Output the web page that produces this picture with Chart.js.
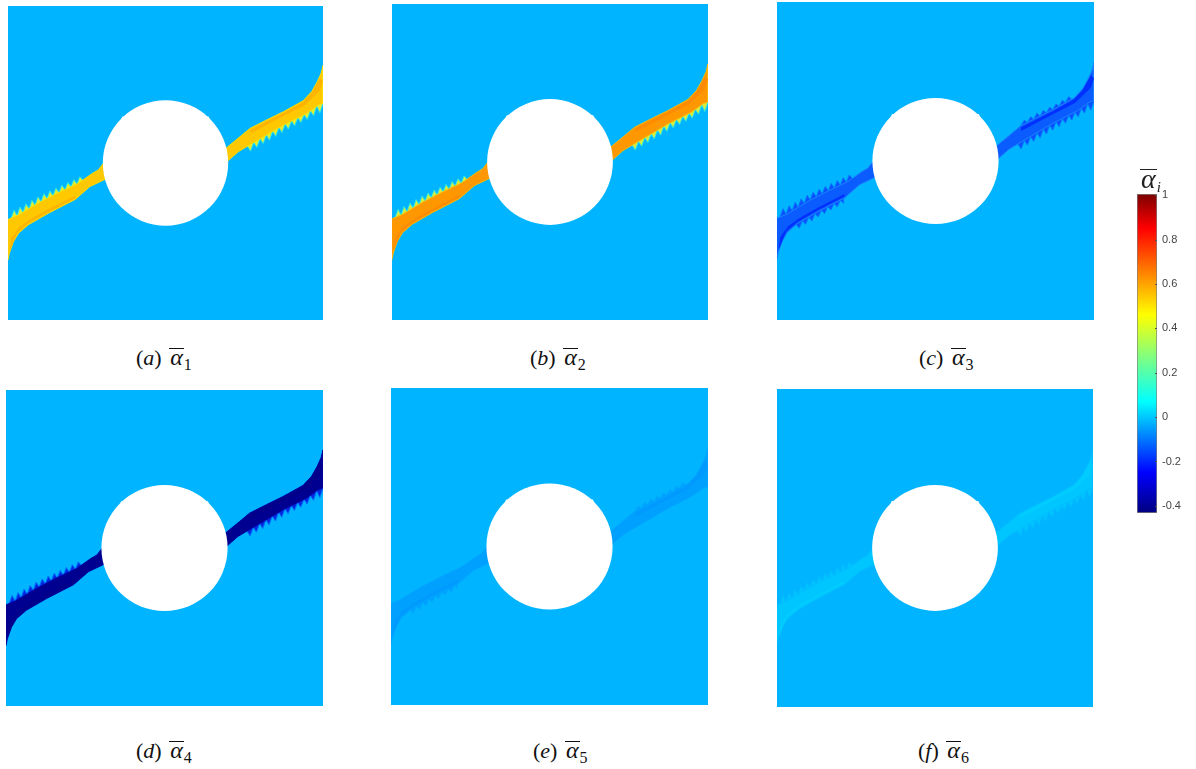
<!DOCTYPE html>
<html>
<head>
<meta charset="utf-8">
<script src="https://cdn.jsdelivr.net/npm/chart.js@4/dist/chart.umd.min.js"></script>
<style>
    html, body { margin: 0; padding: 0; background: #fff; width: 1196px; height: 769px; overflow: hidden; }
    canvas { position: absolute; display: block; }
    .cap { position: absolute; font-family: "Liberation Serif", serif; font-size: 22px; line-height: 26px; color: #111; white-space: nowrap; }
    .bar { display: inline-block; font-style: italic; font-size: 24px; line-height: 16px; border-top: 1.4px solid #111; padding: 0 1px; margin-left: 2px; }
    .cap sub { font-size: 16px; line-height: 0; vertical-align: -5px; }
    #barTitle { position: absolute; left: 1140px; top: 164px; font-family: "Liberation Serif", serif; font-size: 28px; line-height: 30px; color: #222; white-space: nowrap; }
    #barTitle .bar { font-size: 28px; line-height: 18px; margin-left: 0; border-top-color: #222; }
    #barTitle sub { font-size: 15px; line-height: 0; vertical-align: -4px; }
</style>
</head>
<body>
<script>
// band outlines, in % of the plate (x from left, y from bottom)
const leftBandX = [0, 3.3, 9.6, 16, 22.3, 26.8, 28.7, 30.3, 33, 33, 30.8, 26, 21.3, 12.8, 6.4, 3.3, 1.7, 0.4, 0];
const leftBandY = [32, 33.4, 37.2, 40.5, 43.5, 46.7, 47.8, 49.9, 52, 43.5, 44.8, 42.5, 38.4, 34, 30.3, 27.6, 24.9, 21.2, 19.1];
const rightBandX = [68, 69.8, 73.7, 76.8, 82.1, 87.4, 93.7, 96.4, 98.2, 99.4, 100, 100, 98.5, 94.8, 87.4, 77.9, 73.1, 69.8, 68];
const rightBandY = [53.7, 55.2, 58.4, 61, 63.7, 66.3, 69.8, 72.7, 75.9, 78.6, 81, 69, 68.5, 65.8, 62.1, 56.5, 53.6, 50.7, 49.3];

// darker strip inside the band
const leftStreakX = [0.5, 3, 6.4, 12.8, 21.3, 21.3, 13, 7, 3.5, 1];
const leftStreakY = [22, 27.9, 30.7, 34.4, 38.8, 39.6, 35.4, 32, 29.5, 26];
const rightStreakX = [77, 87.4, 93.7, 96.4, 99, 100, 99, 94, 87, 77];
const rightStreakY = [60.6, 65.9, 69.4, 72.3, 77, 76, 73, 68.2, 64.7, 59.4];

// saw teeth along the band edges
const teethLeftUpperX = [0, 1, 1.9, 2.9, 3.8, 4.8, 5.7, 6.7, 7.6, 8.6, 9.5, 10.5, 11.4, 12.4, 13.3, 14.3, 15.2, 16.2, 17.1, 18.1, 19, 20, 20.9, 21.9, 22.8, 23.8, 23.8, 1];
const teethLeftUpperY = [32, 32.4, 35, 33.2, 35.9, 34.3, 37, 35.4, 38.1, 36.6, 39.2, 37.7, 40.2, 38.7, 41.1, 39.6, 42, 40.6, 42.9, 41.4, 43.8, 42.4, 44.7, 43.3, 45.6, 44.5, 42, 30];
const teethRightLowerX = [76, 77, 78, 79, 80, 81, 82, 83, 84, 85, 86, 87, 88, 89, 90, 91, 92, 93, 94, 95, 96, 97, 98, 99, 100, 100, 76];
const teethRightLowerY = [55.4, 53.8, 56.5, 55, 57.7, 56.2, 58.9, 57.3, 60.1, 58.5, 61.3, 59.7, 62.4, 60.8, 63.4, 61.9, 64.4, 62.9, 65.4, 63.9, 66.6, 65.1, 68.1, 66, 69, 71, 58];
const teethLeftLowerX = [6, 7, 8, 9, 10, 11, 12, 13, 14, 15, 16, 17, 18, 19, 20, 21, 21, 6];
const teethLeftLowerY = [30.1, 28.9, 31.2, 30.1, 32.4, 31.2, 33.5, 32.4, 34.6, 33.5, 35.7, 34.6, 36.7, 35.6, 37.7, 36.7, 40, 33];
const teethRightUpperX = [77, 78, 79, 80, 81, 82, 83, 84, 85, 86, 87, 88, 89, 90, 91, 92, 93, 93, 77];
const teethRightUpperY = [61.1, 62.8, 62.1, 63.9, 63.1, 65, 64.1, 65.9, 65.1, 66.9, 66.1, 67.9, 67.2, 69.1, 68.3, 70.2, 69.4, 66, 58];

const holeX = [50];
const holeY = [50];
const holeR = 19.9;

// small mesh steps on the rim of the hole
const notchLeftX = [36, 36.3, 37.3, 37.6];
const notchLeftY = [64, 64.8, 64.8, 64.3];
const notchRightX = [62.4, 62.7, 63.7, 64];
const notchRightY = [64.3, 64.8, 64.8, 64];

// one entry per panel
const panelLetters = ['a', 'b', 'c', 'd', 'e', 'f'];
const panelIndex = ['1', '2', '3', '4', '5', '6'];
const bandColors = ['#ffc800', '#ff9800', '#0a5cff', '#000090', '#00a0ff', '#00c6ff'];
const edgeColors = ['#ffdc00', '#ffb800', '#1a84ff', '#0000a0', '#00a4ff', '#00bcff'];
const streakColors = ['#ffb400', '#ff8c00', '#0030ff', '#00008a', '#009aff', '#00ccff'];
const teethColors = ['#e4ec30', '#d8ec40', '#0a50ff', '#0028e0', '#00a0ff', '#00c4ff'];
const teethEdges = ['#30e8e0', '#30e8e0', '#0a70ff', '#0070ff', '#00a8ff', '#00bcff'];

// colour bar
const barMin = -0.432;
const barMax = 1.005;
const barTicks = [-0.4, -0.2, 0, 0.2, 0.4, 0.6, 0.8, 1];
const barStopValues = [-0.43, -0.25, 0.07, 0.27, 0.46, 0.85, 1];
const barStopColors = ['#000080', '#0000ff', '#00ffff', '#80ff80', '#ffff00', '#ff0000', '#800000'];

const PLATE = '#00b4ff';
const panelBoxes = [
    { left: 8, top: 6, width: 315, height: 314 },
    { left: 392, top: 4, width: 316, height: 316 },
    { left: 777, top: 2, width: 317, height: 318 },
    { left: 6, top: 390, width: 317, height: 316 },
    { left: 391, top: 388, width: 317, height: 317 },
    { left: 777, top: 389, width: 316, height: 318 }
];
const captionBoxes = [
    { left: 136, top: 345 }, { left: 530, top: 345 }, { left: 919, top: 345 },
    { left: 136, top: 738 }, { left: 533, top: 738 }, { left: 918, top: 738 }
];

const points = (xs, ys) => xs.map((x, i) => ({ x: x, y: ys[i] }));

const shape = (xs, ys, color, edge) => ({
    type: 'scatter',
    data: points(xs, ys),
    showLine: true,
    fill: 'shape',
    tension: 0,
    pointRadius: 0,
    borderWidth: edge ? 1 : 0,
    borderColor: edge || color,
    backgroundColor: color
});

const plateBackground = {
    id: 'plateBackground',
    beforeDraw(chart) {
        const { ctx, chartArea: a } = chart;
        ctx.save();
        ctx.fillStyle = PLATE;
        ctx.fillRect(a.left, a.top, a.width, a.height);
        ctx.restore();
    }
};

// short ticks drawn inside the colour bar
const innerTicks = {
    id: 'innerTicks',
    afterDatasetsDraw(chart) {
        const { ctx, chartArea: a, scales: { y } } = chart;
        ctx.save();
        ctx.strokeStyle = '#555';
        ctx.lineWidth = 1;
        barTicks.forEach(v => {
            const py = Math.round(y.getPixelForValue(v)) + 0.5;
            ctx.beginPath();
            ctx.moveTo(a.right - 2, py);
            ctx.lineTo(a.right, py);
            ctx.stroke();
        });
        ctx.restore();
    }
};

function addCanvas(box) {
    const canvas = document.createElement('canvas');
    canvas.width = box.width;
    canvas.height = box.height;
    canvas.style.left = box.left + 'px';
    canvas.style.top = box.top + 'px';
    canvas.style.width = box.width + 'px';
    canvas.style.height = box.height + 'px';
    document.body.appendChild(canvas);
    return canvas;
}

function drawPanel(i) {
    // first dataset ends up on top
    const datasets = [{
        type: 'scatter',
        data: points(holeX, holeY),
        pointBackgroundColor: '#fff',
        pointBorderWidth: 0,
        pointRadius: c => c.chart.scales.x.getPixelForValue(holeR) - c.chart.scales.x.getPixelForValue(0),
        clip: false
    },
    shape(notchLeftX, notchLeftY, '#fff'),
    shape(notchRightX, notchRightY, '#fff'),
    shape(leftStreakX, leftStreakY, streakColors[i]),
    shape(rightStreakX, rightStreakY, streakColors[i]),
    shape(leftBandX, leftBandY, bandColors[i], edgeColors[i]),
    shape(rightBandX, rightBandY, bandColors[i], edgeColors[i])];

    // which edges carry teeth changes a bit from panel to panel
    if (i !== 4) {
        datasets.push(shape(teethLeftUpperX, teethLeftUpperY, teethColors[i], teethEdges[i]));
        datasets.push(shape(teethRightLowerX, teethRightLowerY, teethColors[i], teethEdges[i]));
    }
    if (i === 2 || i === 4) {
        datasets.push(shape(teethLeftLowerX, teethLeftLowerY, teethColors[i], teethEdges[i]));
        datasets.push(shape(teethRightUpperX, teethRightUpperY, teethColors[i], teethEdges[i]));
    }

    new Chart(addCanvas(panelBoxes[i]), {
        type: 'scatter',
        data: { datasets: datasets },
        plugins: [plateBackground],
        options: {
            responsive: false,
            animation: false,
            events: [],
            layout: { padding: 0 },
            plugins: { legend: { display: false }, tooltip: { enabled: false } },
            scales: {
                x: { type: 'linear', min: 0, max: 100, display: false },
                y: { type: 'linear', min: 0, max: 100, display: false }
            }
        }
    });

    const cap = document.createElement('div');
    cap.className = 'cap';
    cap.style.left = captionBoxes[i].left + 'px';
    cap.style.top = captionBoxes[i].top + 'px';
    cap.innerHTML = '(<i>' + panelLetters[i] + '</i>) <span class="bar">α</span><sub>' + panelIndex[i] + '</sub>';
    document.body.appendChild(cap);
}

panelLetters.forEach((letter, i) => drawPanel(i));

function barFill(c) {
    // not laid out yet on the first pass
    if (!c.chart.chartArea) return barStopColors[0];
    const y = c.chart.scales.y;
    const g = c.chart.ctx.createLinearGradient(0, y.getPixelForValue(barMin), 0, y.getPixelForValue(barMax));
    barStopValues.forEach(function (v, i) {
        g.addColorStop(Math.max(0, (v - barMin) / (barMax - barMin)), barStopColors[i]);
    });
    return g;
}

new Chart(addCanvas({ left: 1120, top: 180, width: 76, height: 345 }), {
    type: 'bar',
    data: {
        labels: [''],
        datasets: [{
            data: [[barMin, barMax]],
            backgroundColor: barFill,
            borderColor: '#7f7f7f',
            borderWidth: 1,
            borderSkipped: false,
            barPercentage: 1,
            categoryPercentage: 1
        }]
    },
    plugins: [innerTicks],
    options: {
        responsive: false,
        animation: false,
        events: [],
        layout: { padding: { left: 17, top: 14, bottom: 12 } },
        plugins: { legend: { display: false }, tooltip: { enabled: false } },
        scales: {
            x: { display: false },
            y: {
                position: 'right',
                min: barMin,
                max: barMax,
                afterBuildTicks: scale => { scale.ticks = barTicks.map(v => ({ value: v })); },
                afterFit: scale => { scale.width = 39; },
                border: { display: false },
                grid: { display: false, drawTicks: false },
                ticks: {
                    padding: 5,
                    color: '#444',
                    font: { family: 'Liberation Sans', size: 11 },
                    callback: v => String(v)
                }
            }
        }
    }
});

const barTitle = document.createElement('div');
barTitle.id = 'barTitle';
barTitle.innerHTML = '<span class="bar">α</span><sub><i>i</i></sub>';
document.body.appendChild(barTitle);
</script>
</body>
</html>
